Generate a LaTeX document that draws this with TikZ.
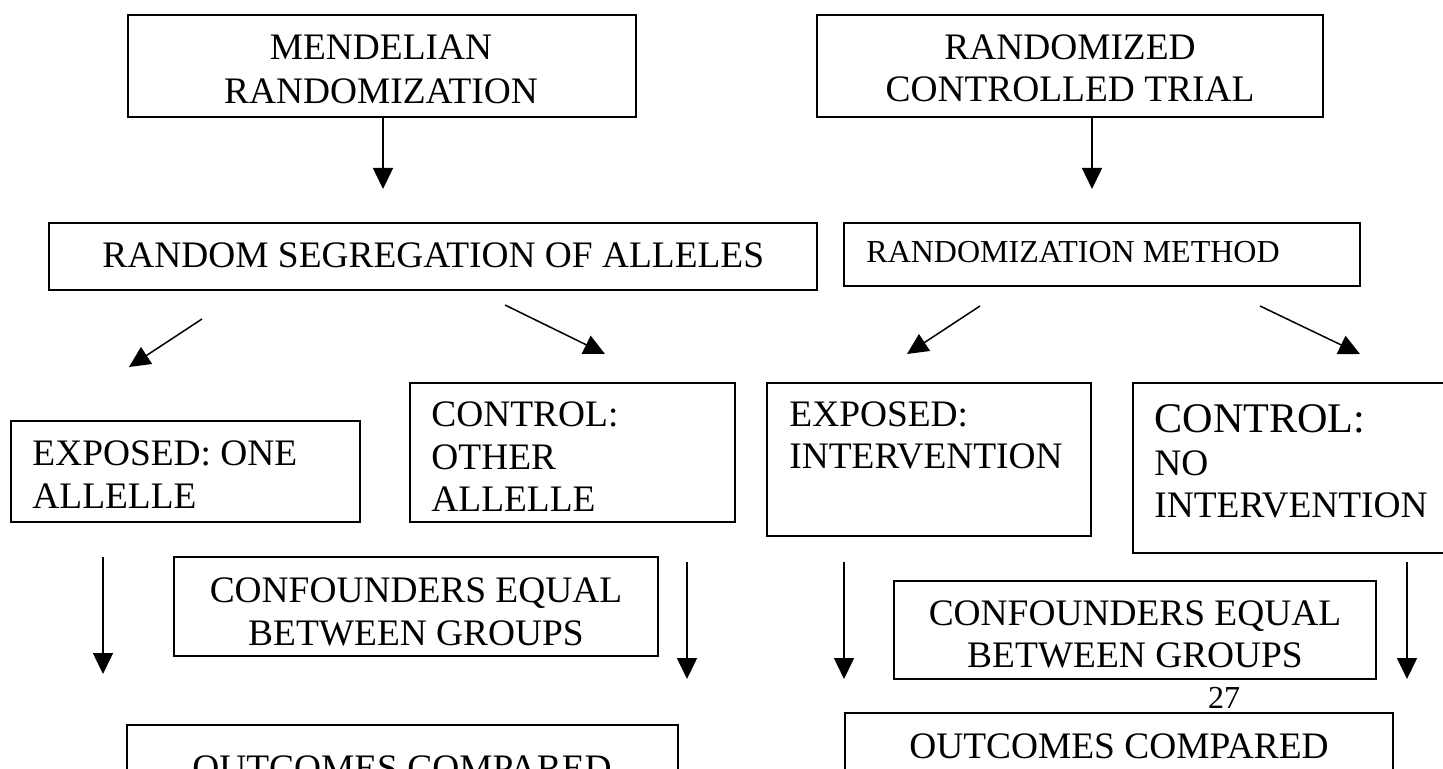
\documentclass[tikz,border=0pt]{standalone}
\usepackage{fontspec}
\setmainfont{Liberation Serif}
\usetikzlibrary{arrows.meta,fit}

\begin{document}
\begin{tikzpicture}[x=0.5pt,y=-0.5pt,
    box/.style={draw,line width=1pt,inner sep=0pt},
    txt/.style={inner sep=0pt,font=\fontsize{18.7}{21}\selectfont},
    klein/.style={inner sep=0pt,font=\fontsize{16}{18}\selectfont},
    groot/.style={inner sep=0pt,font=\fontsize{21.1}{24}\selectfont},
    pijl/.style={line width=0.75pt,-{Triangle[length=10.5pt,width=10pt]}}]
    \useasboundingbox (0,0) rectangle (1443,769);
    \clip (0,0) rectangle (1443,769);
    % vakken
    \node[box,fit={(128,15) (636,117)}] (mr) {};
    \node[box,fit={(817,15) (1323,117)}] (rct) {};
    \node[box,fit={(49,223) (817,290)}] (rsa) {};
    \node[box,fit={(844,223) (1360,286)}] (rm) {};
    \node[box,fit={(11,421) (360,522)}] (expa) {};
    \node[box,fit={(410,383) (735,522)}] (cona) {};
    \node[box,fit={(767,383) (1091,536)}] (expi) {};
    \node[box,fit={(1133,383) (1470,553)}] (coni) {};
    \node[box,fit={(174,557) (658,656)}] (confl) {};
    \node[box,fit={(894,581) (1376,679)}] (confr) {};
    \node[box,fit={(127,725) (678,820)}] (outl) {};
    \node[box,fit={(845,713) (1393,820)}] (outr) {};
    % teksten
    \node[txt,anchor=base] (mr1) at (381,60) {MENDELIAN};
    \node[txt,anchor=base] (mr2) at (381,104) {RANDOMIZATION};
    \node[txt,anchor=base] (rct1) at (1070,60) {RANDOMIZED};
    \node[txt,anchor=base] (rct2) at (1070,102) {CONTROLLED TRIAL};
    \node[txt,anchor=base west] (rsa1) at (102,268) {RANDOM SEGREGATION OF ALLELES};
    \node[klein,anchor=base west] (rm1) at (866,263) {RANDOMIZATION METHOD};
    \node[txt,anchor=base west] (expa1) at (32,466) {EXPOSED: ONE};
    \node[txt,anchor=base west] (expa2) at (32,508) {ALLELLE};
    \node[txt,anchor=base west] (cona1) at (431,427) {CONTROL:};
    \node[txt,anchor=base west] (cona2) at (431,469) {OTHER};
    \node[txt,anchor=base west] (cona3) at (431,511) {ALLELLE};
    \node[txt,anchor=base west] (expi1) at (789,427) {EXPOSED:};
    \node[txt,anchor=base west] (expi2) at (789,468) {INTERVENTION};
    \node[groot,anchor=base west] (coni1) at (1154,432) {CONTROL:};
    \node[txt,anchor=base west] (coni2) at (1154,475) {NO};
    \node[txt,anchor=base west] (coni3) at (1154,517) {INTERVENTION};
    \node[txt,anchor=base] (confl1) at (416,602) {CONFOUNDERS EQUAL};
    \node[txt,anchor=base] (confl2) at (416,645) {BETWEEN GROUPS};
    \node[txt,anchor=base] (confr1) at (1135,625) {CONFOUNDERS EQUAL};
    \node[txt,anchor=base] (confr2) at (1135,667) {BETWEEN GROUPS};
    \node[klein,anchor=base] (pag) at (1224,708) {27};
    \node[txt,anchor=base] (outl1) at (402,780) {OUTCOMES COMPARED};
    \node[txt,anchor=base] (outr1) at (1119,758) {OUTCOMES COMPARED};
    % eindpunten
    \coordinate (e1) at (383,189);
    \coordinate (e2) at (1092,189);
    \coordinate (s3) at (202,319); \coordinate (e3) at (129,367);
    \coordinate (s4) at (505,305); \coordinate (e4) at (605,354);
    \coordinate (s5) at (980,306); \coordinate (e5) at (907,354);
    \coordinate (s6) at (1260,306); \coordinate (e6) at (1360,354);
    \coordinate (s7) at (103,557); \coordinate (e7) at (103,674);
    \coordinate (s8) at (687,562); \coordinate (e8) at (687,679);
    \coordinate (s9) at (844,562); \coordinate (e9) at (844,679);
    \coordinate (s10) at (1407,562); \coordinate (e10) at (1407,679);
    % pijlen
    \draw[pijl] (mr.south -| e1) -- (e1);
    \draw[pijl] (rct.south -| e2) -- (e2);
    \draw[pijl] (s3) -- (e3);
    \draw[pijl] (s4) -- (e4);
    \draw[pijl] (s5) -- (e5);
    \draw[pijl] (s6) -- (e6);
    \draw[pijl] (s7) -- (e7);
    \draw[pijl] (s8) -- (e8);
    \draw[pijl] (s9) -- (e9);
    \draw[pijl] (s10) -- (e10);
\end{tikzpicture}
\end{document}
